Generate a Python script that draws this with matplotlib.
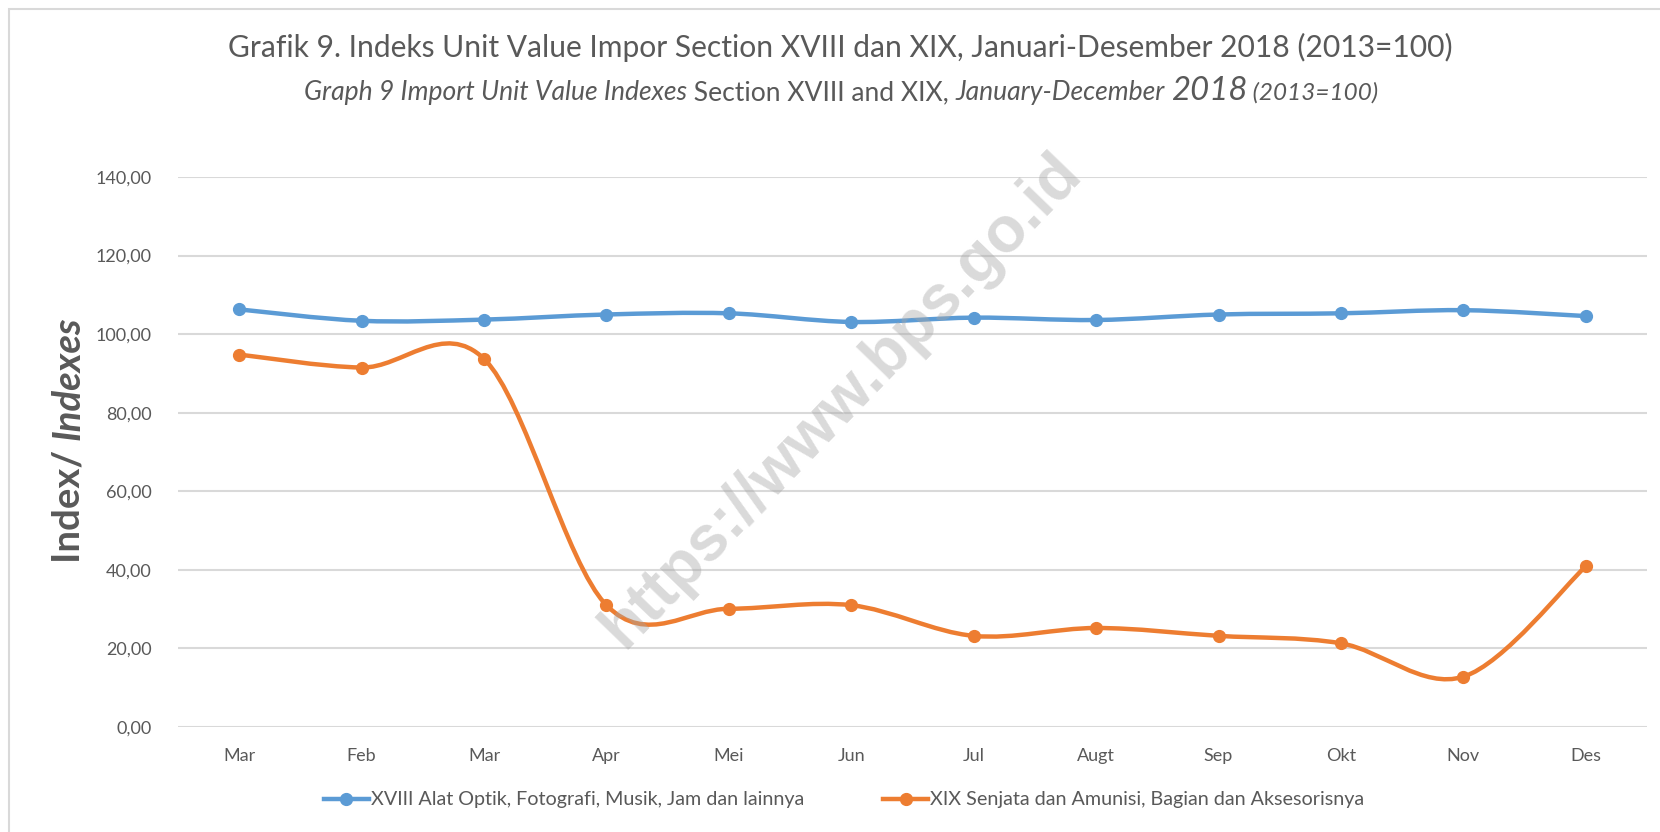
import numpy as np
import matplotlib
matplotlib.use('Agg')
from matplotlib import pyplot as plt
from matplotlib.path import Path
from matplotlib.patches import PathPatch, Rectangle
from matplotlib.lines import Line2D
from matplotlib.transforms import IdentityTransform

plt.rcParams['font.family'] = ['Lato', 'DejaVu Sans']

# data
months = ['Mar', 'Feb', 'Mar', 'Apr', 'Mei', 'Jun', 'Jul', 'Augt', 'Sep', 'Okt', 'Nov', 'Des']
xviii = [106.3, 103.4, 103.7, 105.0, 105.3, 103.1, 104.2, 103.6, 105.0, 105.3, 106.1, 104.6]
xix = [94.8, 91.5, 93.7, 31.0, 30.1, 31.0, 23.2, 25.2, 23.2, 21.3, 12.8, 40.9]
series_names = ['XVIII Alat Optik, Fotografi, Musik, Jam dan lainnya',
                'XIX Senjata dan Amunisi, Bagian dan Aksesorisnya']
yticks = [0, 20, 40, 60, 80, 100, 120, 140]

BLUE = '#5B9BD5'
ORANGE = '#ED7D31'
GREY = '#595959'

W, H = 1660, 832


def smooth_path(x, y):
    """Excel style smoothed line: cubic bezier, tangents from neighbours / 6"""
    pts = np.column_stack([x, y]).astype(float)
    ext = np.vstack([pts[0], pts, pts[-1]])
    verts = [pts[0]]
    codes = [Path.MOVETO]
    for i in range(len(pts) - 1):
        p0, p1, p2, p3 = ext[i], ext[i + 1], ext[i + 2], ext[i + 3]
        verts += [p1 + (p2 - p0) / 6, p2 - (p3 - p1) / 6, p2]
        codes += [Path.CURVE4] * 3
    return Path(verts, codes)


def draw_pieces(fig, pieces, cx, cy, rend):
    # draw text pieces side by side, centred on cx (pixel coords, y from top)
    texts = [fig.text(0, 0, s, transform=IdentityTransform(), ha='left',
                      va='baseline', color=GREY, **kw) for s, kw in pieces]
    widths = [t.get_window_extent(rend).width for t in texts]
    x = cx - sum(widths) / 2
    for t, w in zip(texts, widths):
        t.set_position((x, H - cy))
        x += w


fig = plt.figure(figsize=(W / 100, H / 100), dpi=100)
ax = fig.add_axes([178 / W, (H - 727) / H, (1647 - 178) / W, (727 - 177) / H])

x = np.arange(len(months))
for vals, col in [(xviii, BLUE), (xix, ORANGE)]:
    ax.add_patch(PathPatch(smooth_path(x, vals), fill=False, edgecolor=col, lw=3.2,
                           capstyle='round', joinstyle='round', zorder=3))
    ax.plot(x, vals, 'o', color=col, ms=8.5, zorder=4)

ax.set_xlim(-0.5, len(months) - 0.5)
ax.set_ylim(0, 140)
ax.set_yticks(yticks)
ax.set_yticklabels(['%d,00' % v for v in yticks])
ax.set_xticks(x)
ax.set_xticklabels(months)
ax.tick_params(length=0, labelsize=13, labelcolor=GREY)
ax.tick_params(axis='y', pad=19)
ax.tick_params(axis='x', pad=15)
ax.grid(axis='y', color='#d9d9d9', lw=1.5)
ax.set_axisbelow(True)
for sp in ax.spines.values():
    sp.set_visible(False)

handles = [Line2D([], [], color=BLUE, lw=3.2, marker='o', ms=8.5),
           Line2D([], [], color=ORANGE, lw=3.2, marker='o', ms=8.5)]
fig.legend(handles, series_names, loc='center', bbox_to_anchor=(844 / W, 1 - 800 / H),
           ncol=2, frameon=False, fontsize=14.2, labelcolor=GREY, handlelength=2.3,
           handletextpad=0.1, columnspacing=4.0)

# chart border (only top and left visible in the original crop)
fig.patches.append(Rectangle((9 / W, -0.1), 1.2, 1.1 - 9 / H, transform=fig.transFigure,
                             fill=False, ec='#d9d9d9', lw=1.5))

rend = fig.canvas.get_renderer()
draw_pieces(fig, [('Grafik 9. Indeks Unit Value Impor Section XVIII dan XIX, Januari-Desember 2018 (2013=100)',
                   dict(fontsize=21.6))], 840, 57, rend)
draw_pieces(fig, [('Graph 9 Import Unit Value Indexes', dict(fontsize=19.1, style='italic')),
                  (' Section XVIII and XIX, ', dict(fontsize=19.1)),
                  ('January-December ', dict(fontsize=19.1, style='italic')),
                  ('2018', dict(fontsize=23.7, style='italic')),
                  (' (2013=100)', dict(fontsize=17.5, style='italic'))], 841, 100, rend)

# rotated y label: "Index/ " bold + "Indexes" bold italic
ylab = [('Index/ ', dict(weight='bold')), ('Indexes', dict(weight='bold', style='italic'))]
ytexts = [fig.text(0, 0, s, transform=IdentityTransform(), rotation=90, ha='center',
                   va='bottom', fontsize=27.5, color=GREY, **kw) for s, kw in ylab]
lens = [t.get_window_extent(rend).height for t in ytexts]
yy = (H - 440) - sum(lens) / 2
for t, l in zip(ytexts, lens):
    t.set_position((68, yy))
    yy += l

# watermark
fig.text(842 / W, 1 - 400 / H, 'https://www.bps.go.id', family='Liberation Sans', weight='bold',
         fontsize=46, rotation=46, ha='center', va='center', color='#a6a6a6', alpha=0.42,
         zorder=10)

fig.savefig('out.png', dpi=100)
